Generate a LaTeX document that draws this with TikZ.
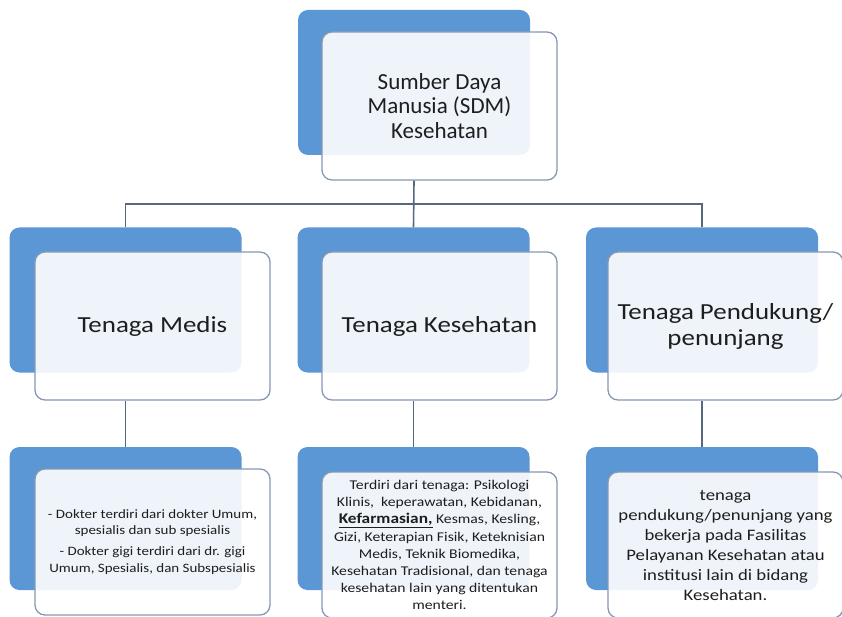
\documentclass[tikz,border=0pt]{standalone}
\usepackage{fontspec}
\setmainfont{Carlito}
\newfontfamily\widefont[FakeStretch=1.17]{Carlito}
\definecolor{sdmblue}{HTML}{5B97D5}
\definecolor{sdmedge}{HTML}{8698B2}
\definecolor{sdmlink}{HTML}{56687D}
\definecolor{sdmtext}{HTML}{1E1E1E}
\tikzset{
  backbox/.style={rectangle, rounded corners=10pt, fill=sdmblue,
    minimum width=232pt, minimum height=145pt, inner sep=0pt},
  frontbox/.style={rectangle, rounded corners=10pt, draw=sdmedge, line width=1.3pt,
    fill=white, fill opacity=0.9, text opacity=1, text=sdmtext,
    minimum width=235pt, minimum height=148pt, inner sep=2pt, align=center},
  link/.style={draw=sdmlink, line width=1.6pt}
}
\begin{document}
\begin{tikzpicture}[x=1pt, y=-1pt]
  \useasboundingbox (0,0) rectangle (842,617);

  % Top: SDM Kesehatan
  \node[backbox] (sdmback) at (414,82.5) {};
  \node[frontbox, font=\fontsize{23}{24.5}\selectfont] (sdm) at (439.5,106)
    {Sumber Daya\\Manusia (SDM)\\Kesehatan};

  % Second row: three kinds of workers
  \node[backbox] (medisback) at (125.5,300) {};
  \node[backbox] (nakesback) at (413.5,300) {};
  \node[backbox] (dukungback) at (702,300) {};
  \node[frontbox, font=\widefont\fontsize{23}{26}\selectfont] (medis) at (152.5,326) {Tenaga Medis};
  \node[frontbox, font=\widefont\fontsize{23}{26}\selectfont] (nakes) at (439.5,326) {Tenaga Kesehatan};
  \node[frontbox, font=\widefont\fontsize{23}{26}\selectfont] (dukung) at (725.5,326)
    {Tenaga Pendukung/\\penunjang};

  % Third row: descriptions
  \node[backbox, minimum height=143pt] (medisdescback) at (125.5,518.5) {};
  \node[backbox, minimum height=143pt] (nakesdescback) at (413.5,518.5) {};
  \node[backbox, minimum height=143pt] (dukungdescback) at (702,518.5) {};
  \node[frontbox, minimum height=146pt, font=\widefont\fontsize{12.8}{16.5}\selectfont] (medisdesc) at (152.5,542)
    {- Dokter terdiri dari dokter Umum,\\spesialis dan sub spesialis\\[4.5pt]
     - Dokter gigi terdiri dari dr. gigi\\Umum, Spesialis, dan Subspesialis};
  \node[frontbox, minimum height=146pt, font=\widefont\fontsize{13.4}{17.1}\selectfont] (nakesdesc) at (439.5,545)
    {Terdiri dari tenaga: Psikologi\\Klinis,~ keperawatan, Kebidanan,\\
     {\fontsize{14.8}{17.1}\selectfont\underline{\textbf{Kefarmasian,}}} Kesmas, Kesling,\\
     Gizi, Keterapian Fisik, Keteknisian\\Medis, Teknik Biomedika,\\
     Kesehatan Tradisional, dan tenaga\\kesehatan lain yang ditentukan\\menteri.};
  \node[frontbox, minimum height=146pt, font=\widefont\fontsize{16}{20}\selectfont] (dukungdesc) at (725.5,545)
    {tenaga\\pendukung/penunjang yang\\bekerja pada Fasilitas\\
     Pelayanan Kesehatan atau\\institusi lain di bidang\\Kesehatan.};

  % Connectors
  \coordinate (bus) at (414,204);
  \draw[link] (sdm.south -| sdmback.north) -- (nakesback.north);
  \draw[link] (medisback.north) |- (dukungback.north |- bus) -- (dukungback.north);
  \draw[link] (medis.south -| medisback.north) -- (medisdescback.north);
  \draw[link] (nakes.south -| nakesback.north) -- (nakesdescback.north);
  \draw[link] (dukung.south -| dukungback.north) -- (dukungdescback.north);
\end{tikzpicture}
\end{document}
